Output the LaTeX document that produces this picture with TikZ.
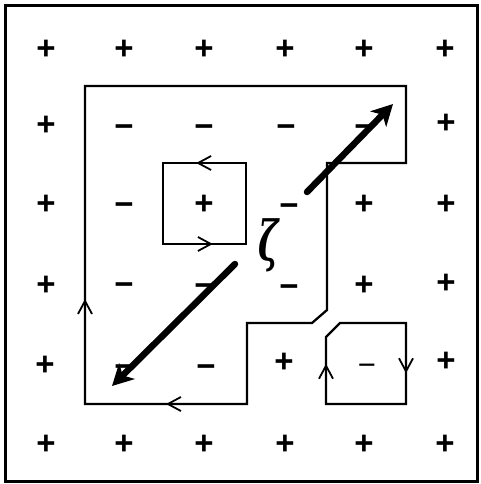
\documentclass[tikz,border=0pt]{standalone}
\usepackage{fontspec}
\newfontfamily\signfont{Liberation Sans}
\newfontfamily\zetafont{DejaVu Serif}
\usetikzlibrary{arrows.meta,decorations.markings}
\begin{document}
\begin{tikzpicture}[x=1pt,y=-1pt,
  sgn/.style={font=\signfont\bfseries\fontsize{33}{33}\selectfont, inner sep=0pt},
  msgn/.style={sgn, yshift=-5pt},
  contour/.style={line width=2.3pt, line join=miter},
  midarrow/.style={postaction={decorate},decoration={markings,mark=at position #1 with {\arrow{Straight Barb[length=13pt,width=14pt,line width=1.8pt]}}}},
  bigarrow/.style={line width=6.5pt, -{Stealth[length=21pt,width=22pt,inset=6pt]}, line cap=round}]
\useasboundingbox (0,0) rectangle (480,484);
\draw[line width=3pt] (5.5,6) rectangle (477,481.5);
% signs
\foreach \x [count=\i] in {46,124,204,285,364,445} {
  \node[sgn] (t\i) at (\x,50) {+};
  \node[sgn] (b\i) at (\x,445) {+};
}
\node[sgn] (r2a) at (46,126) {+};
\node[msgn] (r2b) at (124,126) {−};
\node[msgn] (r2c) at (204,126) {−};
\node[msgn] (r2d) at (286,126) {−};
\node[msgn] (r2e) at (364,126) {−};
\node[sgn] (r2f) at (446,124) {+};
\node[sgn] (r3a) at (46,205) {+};
\node[msgn] (r3b) at (124,204) {−};
\node[sgn] (r3c) at (204,205) {+};
\node[msgn] (r3d) at (289,205) {−};
\node[sgn] (r3e) at (364,205) {+};
\node[sgn] (r3f) at (446,205) {+};
\node[sgn] (r4a) at (46,286) {+};
\node[msgn] (r4b) at (124,284) {−};
\node[msgn] (r4c) at (204,285) {−};
\node[msgn] (r4d) at (289,286) {−};
\node[sgn] (r4e) at (364,286) {+};
\node[sgn] (r4f) at (446,284) {+};
\node[sgn] (r5a) at (45,366) {+};
\node[msgn] (r5b) at (124,366) {−};
\node[msgn] (r5c) at (206,366) {−};
\node[sgn] (r5d) at (284,363) {+};
\node[msgn,font=\signfont\fontsize{31}{31}\selectfont] (r5e) at (367,365) {−};
\node[sgn] (r5f) at (446,362) {+};
% big contour
\draw[contour] (85,86) -- (406,86) -- (406,163) -- (327,163) -- (327,310) -- (312,323) -- (247,323) -- (247,404) -- (85,404) -- cycle;
\draw[contour,midarrow=0.5] (247,404) -- (85,404);
\draw[contour,midarrow=0.33] (85,404) -- (85,86);
% inner square
\draw[contour] (163,163) rectangle (246,244);
\draw[contour,midarrow=0.6] (246,163) -- (163,163);
\draw[contour,midarrow=0.6] (163,244) -- (246,244);
% small contour
\draw[contour] (326,404) -- (326,337) -- (340,323) -- (406,323) -- (406,404) -- cycle;
\draw[contour,midarrow=0.6] (326,404) -- (326,337);
\draw[contour,midarrow=0.62] (406,323) -- (406,404);
% thick arrows
\coordinate (u0) at (307,192);
\coordinate (u1) at (393,104);
\coordinate (l0) at (235,264);
\coordinate (l1) at (112,386);
\draw[bigarrow] (u0) -- (u1);
\draw[bigarrow] (l0) -- (l1);
% zeta
\node[inner sep=0pt] (zeta) at (269,245) {\scalebox{0.9}[1.45]{\fontsize{38}{38}\zetafont\bfseries\itshape ζ}};
\end{tikzpicture}
\end{document}
